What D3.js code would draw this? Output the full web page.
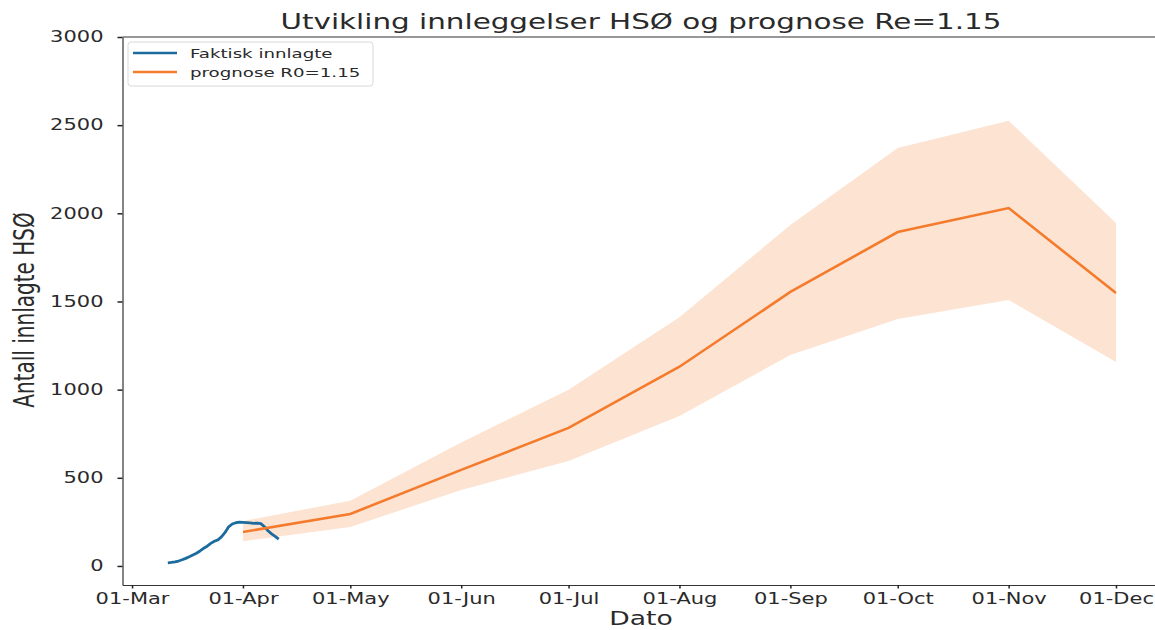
<!DOCTYPE html>
<html>
<head>
<meta charset="utf-8">
<title>Utvikling innleggelser HSØ</title>
<script src="https://cdn.jsdelivr.net/npm/d3@7/dist/d3.min.js"></script>
<style>
  body { margin: 0; background: #fff; }
  svg text { font-family: "DejaVu Sans", sans-serif; fill: #2a2a2a; }
</style>
</head>
<body>
<svg id="chart"></svg>
<script>
// actual hospitalised, one value per day from 11 March
const actualStart = "2020-03-11";
const actualValues = [18, 20, 23, 28, 35, 43, 52, 62, 72, 85, 100, 112, 128, 140, 148, 165,
  190, 222, 238, 245, 248, 247, 246, 244, 242, 243, 240, 222, 200, 182, 168, 152];

// prognosis R0=1.15, monthly
const prognosisDates = ["2020-04-01", "2020-05-01", "2020-06-01", "2020-07-01", "2020-08-01",
  "2020-09-01", "2020-10-01", "2020-11-01", "2020-12-01"];
const prognosisMid = [193, 295, 545, 783, 1130, 1554, 1894, 2030, 1548];
const prognosisHigh = [255, 370, 700, 1000, 1410, 1934, 2370, 2525, 1945];
const prognosisLow = [140, 221, 431, 595, 850, 1197, 1400, 1509, 1157];

const yTicks = [0, 500, 1000, 1500, 2000, 2500, 3000];
const seriesNames = ["Faktisk innlagte", "prognose R0=1.15"];
const titleText = "Utvikling innleggelser HSØ og prognose Re=1.15";

const width = 1155, height = 630;
const stretch = 1.4; // the reference picture is stretched sideways
const blue = "#1c6b9e", orange = "#f57b2c", band = "#fde3d2";

const parse = d3.utcParse("%Y-%m-%d");
const day0 = parse(actualStart);
const actual = actualValues.map((v, i) => ({ date: d3.utcDay.offset(day0, i), value: v }));
const prognosis = prognosisDates.map((d, i) => ({
  date: parse(d), mid: prognosisMid[i], high: prognosisHigh[i], low: prognosisLow[i]
}));

const svg = d3.select("#chart").attr("width", width).attr("height", height);

const mar1 = parse("2020-03-01");
const x = d3.scaleUtc()
  .domain([d3.utcHour.offset(mar1, -64), d3.utcDay.offset(mar1, 288)])
  .range([122.5, 1162.5]);
const y = d3.scaleLinear().domain([-108, 3000]).range([585, 37]);

// band + lines
svg.append("path")
  .datum(prognosis)
  .attr("fill", band)
  .attr("d", d3.area().x(d => x(d.date)).y0(d => y(d.low)).y1(d => y(d.high)));

svg.append("path")
  .datum(actual)
  .attr("fill", "none")
  .attr("stroke", blue)
  .attr("stroke-width", 2.8)
  .attr("stroke-linejoin", "round")
  .attr("d", d3.line().x(d => x(d.date)).y(d => y(d.value)));

svg.append("path")
  .datum(prognosis)
  .attr("fill", "none")
  .attr("stroke", orange)
  .attr("stroke-width", 2.6)
  .attr("d", d3.line().x(d => x(d.date)).y(d => y(d.mid)));

// axes
const xAxis = svg.append("g")
  .attr("transform", "translate(0,585)")
  .call(d3.axisBottom(x)
    .ticks(d3.utcMonth.every(1))
    .tickFormat(d3.utcFormat("%d-%b"))
    .tickSize(3.5)
    .tickSizeOuter(0));
xAxis.selectAll(".tick text")
  .attr("y", 0).attr("dy", null)
  .attr("transform", `translate(0,18.5) scale(${stretch},1)`)
  .style("font-size", "15px");

const yAxis = svg.append("g")
  .attr("transform", "translate(122.5,0)")
  .call(d3.axisLeft(y).tickValues(yTicks).tickFormat(d3.format("d"))
    .tickSize(5).tickSizeOuter(0));
yAxis.selectAll(".tick text")
  .attr("x", 0)
  .attr("transform", `translate(-19,0) scale(${stretch},1)`)
  .style("font-size", "15px");

svg.selectAll(".domain").attr("stroke", "#333").attr("stroke-width", 1.2);
svg.selectAll(".tick line").attr("stroke", "#222").attr("stroke-width", 1.5);

// top spine
svg.append("line")
  .attr("x1", x.range()[0]).attr("x2", x.range()[1])
  .attr("y1", y.range()[1]).attr("y2", y.range()[1])
  .attr("stroke", "#333").attr("stroke-width", 1.2);

// texts
svg.append("text")
  .attr("transform", `translate(641,29) scale(${stretch},1)`)
  .attr("text-anchor", "middle")
  .style("font-size", "21px")
  .text(titleText);

svg.append("text")
  .attr("transform", `translate(641,625) scale(${stretch},1)`)
  .attr("text-anchor", "middle")
  .style("font-size", "19px")
  .text("Dato");

svg.append("text")
  .attr("transform", `translate(34,310) scale(${stretch},1) rotate(-90)`)
  .attr("text-anchor", "middle")
  .style("font-size", "20px")
  .text("Antall innlagte HSØ");

// legend
const legend = svg.append("g");
legend.append("rect")
  .attr("x", 128).attr("y", 42).attr("width", 245).attr("height", 44)
  .attr("rx", 3)
  .attr("fill", "#fff").attr("fill-opacity", 0.8)
  .attr("stroke", "#d8d8d8");
const rows = legend.selectAll("g.row")
  .data(seriesNames)
  .join("g")
  .attr("class", "row")
  .attr("transform", (d, i) => `translate(0,${53 + i * 19})`);
rows.append("line")
  .attr("x1", 133).attr("x2", 177)
  .attr("stroke", (d, i) => i === 0 ? blue : orange)
  .attr("stroke-width", 2.6);
rows.append("text")
  .attr("transform", `translate(190,5) scale(${stretch},1)`)
  .style("font-size", "13px")
  .text(d => d);
</script>
</body>
</html>
